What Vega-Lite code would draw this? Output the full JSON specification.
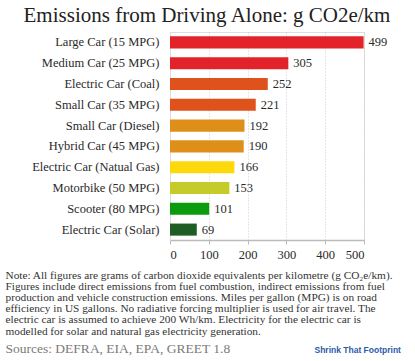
{
  "$schema": "https://vega.github.io/schema/vega-lite/v6.json",
  "width": 194,
  "height": 208,
  "autosize": {"type": "none"},
  "padding": {"left": 170, "top": 32, "right": 51, "bottom": 121},
  "background": "white",
  "config": {
    "font": "Liberation Serif",
    "axis": {"labelFont": "Liberation Serif", "titleFont": "Liberation Serif"},
    "text": {"font": "Liberation Serif"}
  },
  "title": {
    "text": "Emissions from Driving Alone: g CO2e/km",
    "font": "Liberation Serif",
    "fontSize": 21,
    "fontWeight": "normal",
    "color": "#222222",
    "anchor": "middle",
    "frame": "group",
    "dx": -60,
    "offset": 6
  },
  "data": {
    "values": [
      {"vehicle": "Large Car  (15 MPG)", "g": 499},
      {"vehicle": "Medium Car (25 MPG)", "g": 305},
      {"vehicle": "Electric Car (Coal)", "g": 252},
      {"vehicle": "Small Car (35 MPG)", "g": 221},
      {"vehicle": "Small Car (Diesel)", "g": 192},
      {"vehicle": "Hybrid Car (45 MPG)", "g": 190},
      {"vehicle": "Electric Car (Natual Gas)", "g": 166},
      {"vehicle": "Motorbike (50 MPG)", "g": 153},
      {"vehicle": "Scooter (80 MPG)", "g": 101},
      {"vehicle": "Electric Car (Solar)", "g": 69}
    ]
  },
  "encoding": {
    "y": {
      "field": "vehicle",
      "type": "nominal",
      "sort": "-x",
      "scale": {"paddingInner": 0.42, "paddingOuter": 0.21},
      "axis": {
        "title": "Sources:  DEFRA, EIA, EPA, GREET 1.8",
        "titleAngle": 0,
        "titleAlign": "left",
        "titleBaseline": "alphabetic",
        "titleX": -165,
        "titleY": 320,
        "titleFont": "Liberation Serif",
        "titleFontSize": 13.5,
        "titleFontWeight": "normal",
        "titleColor": "#7a7a7a",
        "labelFont": "Liberation Serif",
        "labelFontSize": 12.5,
        "labelColor": "#2a2a2a",
        "labelPadding": 11,
        "ticks": false,
        "domain": true,
        "domainColor": "#dddddd",
        "grid": false
      }
    },
    "x": {
      "field": "g",
      "type": "quantitative",
      "scale": {"domain": [0, 500], "nice": false},
      "axis": {
        "values": [0, 100, 200, 300, 400, 500],
        "labelFont": "Liberation Serif",
        "labelFontSize": 12.5,
        "labelColor": "#2a2a2a",
        "labelPadding": 4,
        "tickColor": "#bbbbbb",
        "tickSize": 4,
        "domainColor": "#bbbbbb",
        "domainWidth": 1.5,
        "grid": true,
        "gridColor": "#cccccc",
        "gridDash": [1, 2],
        "title": [
          "Note:  All figures are grams of carbon dioxide equivalents per kilometre (g CO₂e/km).",
          "Figures include direct emissions from fuel combustion, indirect emissions from fuel",
          "production and vehicle construction emissions.  Miles per gallon (MPG) is on road",
          "efficiency in US gallons.  No radiative forcing multiplier is used for air travel.  The",
          "electric car is assumed to achieve 200 Wh/km.  Electricity for the electric car is",
          "modelled for solar and natural gas electricity generation."
        ],
        "titleFont": "Liberation Serif",
        "titleFontSize": 11.3,
        "titleFontWeight": "normal",
        "titleColor": "#333333",
        "titleAlign": "left",
        "titleAnchor": "start",
        "titleBaseline": "top",
        "titleLineHeight": 11.2,
        "titleX": -165,
        "titleY": 29
      }
    }
  },
  "layer": [
    {
      "mark": {"type": "bar"},
      "encoding": {
        "color": {
          "field": "vehicle",
          "type": "nominal",
          "legend": null,
          "scale": {
            "domain": ["Large Car  (15 MPG)", "Medium Car (25 MPG)", "Electric Car (Coal)", "Small Car (35 MPG)", "Small Car (Diesel)", "Hybrid Car (45 MPG)", "Electric Car (Natual Gas)", "Motorbike (50 MPG)", "Scooter (80 MPG)", "Electric Car (Solar)"],
            "range": ["#e3232a", "#e3232a", "#e0521b", "#e0521b", "#de8f1a", "#de8f1a", "#fdd90b", "#c5cc2a", "#0a9b0f", "#1e5d23"]
          }
        }
      }
    },
    {
      "mark": {"type": "text", "align": "left", "baseline": "middle", "dx": 5, "font": "Liberation Serif", "fontSize": 12.5, "color": "#2a2a2a"},
      "encoding": {
        "text": {"field": "g", "type": "quantitative"},
        "y": {
          "field": "vehicle",
          "type": "nominal",
          "sort": "-x",
          "axis": {
            "orient": "right",
            "labels": false,
            "ticks": false,
            "domain": false,
            "grid": false,
            "title": "Shrink That Footprint",
            "titleAngle": 0,
            "titleAlign": "left",
            "titleBaseline": "alphabetic",
            "titleX": -50,
            "titleY": 320,
            "titleFont": "Liberation Sans",
            "titleFontSize": 8.5,
            "titleFontWeight": "bold",
            "titleColor": "#2b5aa8"
          }
        }
      }
    }
  ],
  "resolve": {"axis": {"y": "independent"}}
}
